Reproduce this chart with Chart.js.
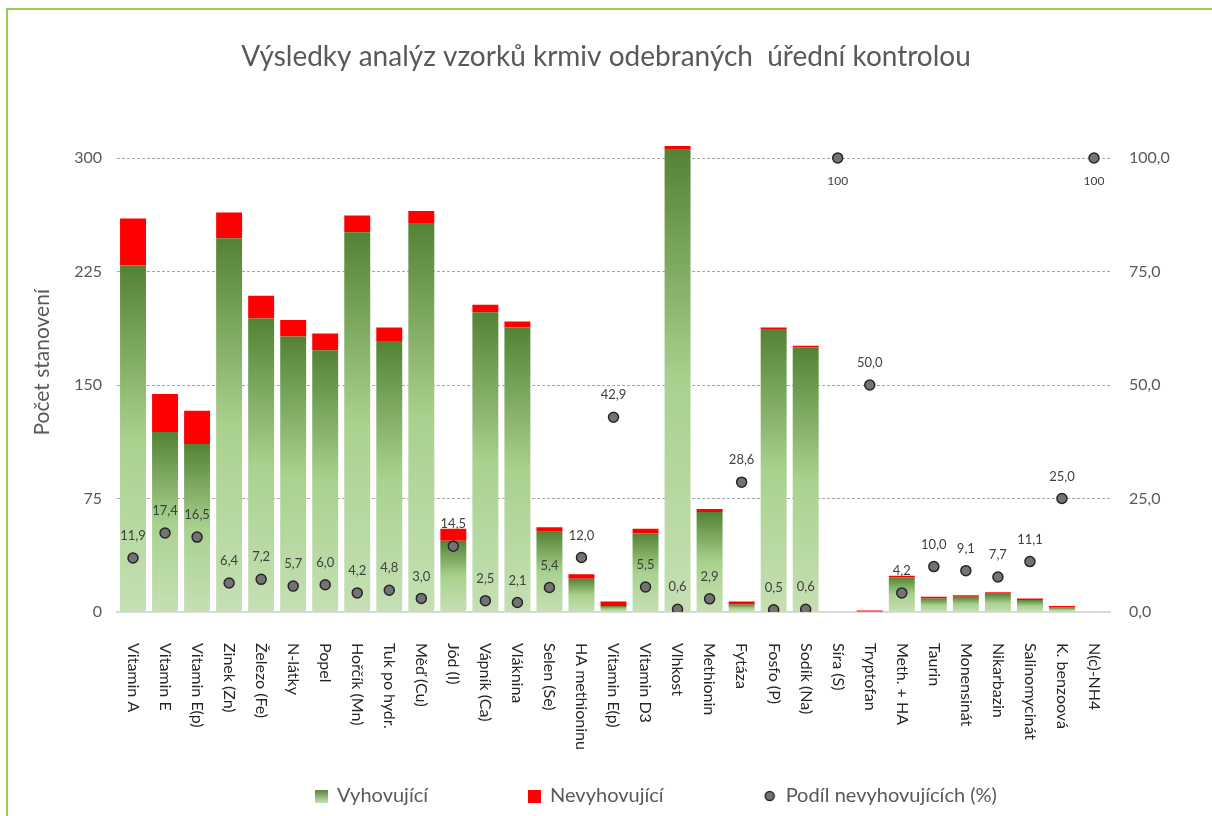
<!DOCTYPE html>
<html lang="cs">
<head>
<meta charset="utf-8">
<title>Výsledky analýz vzorků krmiv</title>
<script src="https://cdn.jsdelivr.net/npm/chart.js@4"></script>
<style>
    html, body { margin: 0; padding: 0; background: #ffffff; }
    #ramecek {
        position: absolute; left: 6px; top: 8px; width: 1300px; height: 900px;
        border-left: 2px solid #92d050; border-top: 2px solid #92d050;
        pointer-events: none;
    }
    #graf { position: absolute; left: 0; top: 0; }
</style>
</head>
<body>
<div id="ramecek"></div>
<canvas id="graf" width="1212" height="816"></canvas>
<script>
// Kategorie (rozbory)
const kategorie = ["Vitamin A", "Vitamin E", "Vitamin E(p)", "Zinek (Zn)", "Železo (Fe)", "N-látky", "Popel",
    "Hořčík (Mn)", "Tuk po hydr.", "Měď (Cu)", "Jód (I)", "Vápník (Ca)", "Vláknina", "Selen (Se)",
    "HA methioninu", "Vitamin E(p)", "Vitamin D3", "Vlhkost", "Methionin", "Fytáza", "Fosfo (P)",
    "Sodík (Na)", "Síra (S)", "Tryptofan", "Meth. + HA", "Taurin", "Monensinát", "Nikarbazin",
    "Salinomycinát", "K. benzoová", "N(c)-NH4"]

// Počty stanovení
const vyhovujici = [229, 119, 111, 247, 194, 182, 173, 251, 179, 257, 47, 198, 188, 53, 22, 4, 52, 306, 66, 5, 187, 175, 0, 0, 23, 9, 10, 12, 8, 3, 0]
const nevyhovujici = [31, 25, 22, 17, 15, 11, 11, 11, 9, 8, 8, 5, 4, 3, 3, 3, 3, 2, 2, 2, 1, 1, 0, 1, 1, 1, 1, 1, 1, 1, 0]

// Podíl nevyhovujících (%)
const podil = [11.9, 17.4, 16.5, 6.4, 7.2, 5.7, 6.0, 4.2, 4.8, 3.0, 14.5, 2.5, 2.1, 5.4, 12.0, 42.9, 5.5, 0.6, 2.9, 28.6, 0.5, 0.6, 100, 50.0, 4.2, 10.0, 9.1, 7.7, 11.1, 25.0, 100]

// Popisky os
const ticksLevo = [0, 75, 150, 225, 300]
const ticksPravo = [0, 25, 50, 75, 100]

const pismo = "Lato"
const sedaText = "#595959"

// Zelený přechod pro jeden sloupec
function prechodZelena(chart, i) {
    const y = chart.scales.y
    if (!y) return "#a9d18e"
    const horni = y.getPixelForValue(vyhovujici[i])
    const dolni = y.getPixelForValue(0)
    if (!(dolni - horni > 0)) return "#a9d18e"
    const g = chart.ctx.createLinearGradient(0, horni, 0, dolni)
    g.addColorStop(0, "#548235")
    g.addColorStop(0.5, "#a9d18e")
    g.addColorStop(1, "#c5e0b4")
    return g
}

// Ikony do legendy
function ikona(kresli, w, h) {
    const c = document.createElement("canvas")
    c.width = w
    c.height = h
    kresli(c.getContext("2d"))
    return c
}
const ikonaZelena = ikona(ctx => {
    const g = ctx.createLinearGradient(0, 0, 0, 13)
    g.addColorStop(0, "#548235")
    g.addColorStop(1, "#c5e0b4")
    ctx.fillStyle = g
    ctx.fillRect(0, 0, 13, 13)
}, 13, 13)
const ikonaCervena = ikona(ctx => {
    ctx.fillStyle = "#ff0000"
    ctx.fillRect(0, 0, 13, 13)
}, 13, 13)
const ikonaBod = ikona(ctx => {
    ctx.beginPath()
    ctx.arc(6, 6, 4.5, 0, Math.PI * 2)
    ctx.fillStyle = "#737373"
    ctx.fill()
    ctx.lineWidth = 1.5
    ctx.strokeStyle = "#262626"
    ctx.stroke()
}, 12, 12)
const ikonyLegendy = [ikonaZelena, ikonaCervena, ikonaBod]

// Svislé popisky kategorií (text čte shora dolů)
const popiskyOsyX = {
    id: "popiskyOsyX",
    afterDraw(chart) {
        const {ctx, scales: {x}} = chart
        ctx.save()
        ctx.font = `16px ${pismo}`
        ctx.fillStyle = "#262626"
        ctx.textAlign = "left"
        ctx.textBaseline = "middle"
        kategorie.forEach((k, i) => {
            ctx.save()
            ctx.translate(x.getPixelForValue(i), chart.chartArea.bottom + 31)
            ctx.rotate(Math.PI / 2)
            ctx.fillText(k, 0, 0)
            ctx.restore()
        })
        ctx.restore()
    }
}

// Hodnoty u bodů
const popiskyBodu = {
    id: "popiskyBodu",
    afterDatasetsDraw(chart) {
        const {ctx} = chart
        const meta = chart.getDatasetMeta(2)
        ctx.save()
        ctx.fillStyle = "#404040"
        ctx.textAlign = "center"
        ctx.textBaseline = "middle"
        meta.data.forEach((bod, i) => {
            const v = podil[i]
            if (v === 100) {
                ctx.font = `12px ${pismo}`
                ctx.fillText("100", bod.x, bod.y + 23)
            } else {
                ctx.font = `13px ${pismo}`
                ctx.fillText(v.toFixed(1).replace(".", ","), bod.x, bod.y - 22)
            }
        })
        ctx.restore()
    }
}

// Legenda v Excelu stojí trochu vpravo od středu
const posunLegendy = {
    id: "posunLegendy",
    afterLayout(chart) {
        chart.legend.left += 50
        chart.legend.right += 50
    }
}

const data = {
    labels: kategorie,
    datasets: [{
        label: "Vyhovující",
        data: vyhovujici,
        backgroundColor: ctx => prechodZelena(ctx.chart, ctx.dataIndex),
        yAxisID: "y",
        order: 2,
        barPercentage: 0.81,
        categoryPercentage: 1,
    }, {
        label: "Nevyhovující",
        data: nevyhovujici,
        backgroundColor: "#ff0000",
        yAxisID: "y",
        order: 2,
        barPercentage: 0.81,
        categoryPercentage: 1,
    }, {
        type: "line",
        label: "Podíl nevyhovujících (%)",
        data: podil,
        yAxisID: "y1",
        showLine: false,
        order: 1,
        pointRadius: 5,
        pointBackgroundColor: "#737373",
        pointBorderColor: "#262626",
        pointBorderWidth: 1.5,
    }],
}

const config = {
    type: "bar",
    data: data,
    options: {
        responsive: false,
        animation: false,
        layout: {padding: 0},
        plugins: {
            title: {
                display: true,
                text: "Výsledky analýz vzorků krmiv odebraných  úřední kontrolou",
                color: sedaText,
                font: {family: pismo, size: 28, weight: "normal"},
                padding: {top: 40, bottom: 39},
            },
            legend: {
                position: "bottom",
                labels: {
                    usePointStyle: true,
                    boxWidth: 12,
                    boxHeight: 12,
                    padding: 100,
                    color: sedaText,
                    font: {family: pismo, size: 20},
                    generateLabels: chart => chart.data.datasets.map((ds, i) => ({
                        text: ds.label,
                        pointStyle: ikonyLegendy[i],
                        fillStyle: "transparent",
                        strokeStyle: "transparent",
                        lineWidth: 0,
                        fontColor: sedaText,
                        hidden: false,
                        datasetIndex: i,
                    })),
                },
            },
            tooltip: {enabled: false},
        },
        scales: {
            x: {
                stacked: true,
                ticks: {display: false},
                grid: {display: false},
                border: {color: "#d9d9d9", width: 2},
                afterFit: s => { s.height = 74 },
            },
            y: {
                stacked: true,
                position: "left",
                min: 0,
                max: 330,
                afterBuildTicks: s => { s.ticks = ticksLevo.map(v => ({value: v})) },
                afterFit: s => { s.width = 117 },
                ticks: {
                    color: sedaText,
                    padding: 15,
                    font: {family: pismo, size: 16},
                },
                grid: {
                    drawTicks: false,
                    color: c => c.tick.value === 0 ? "transparent" : "#a6a6a6",
                    lineWidth: 1,
                },
                border: {display: false, dash: [3, 2]},
                title: {
                    display: true,
                    text: "Počet stanovení",
                    color: sedaText,
                    font: {family: pismo, size: 21},
                    padding: {top: 30, bottom: 0},
                },
            },
            y1: {
                position: "right",
                min: 0,
                max: 110,
                afterBuildTicks: s => { s.ticks = ticksPravo.map(v => ({value: v})) },
                afterFit: s => { s.width = 102 },
                ticks: {
                    color: sedaText,
                    padding: 19,
                    font: {family: pismo, size: 16},
                    callback: v => v.toFixed(1).replace(".", ","),
                },
                grid: {drawOnChartArea: false, drawTicks: false},
                border: {display: false},
            },
        },
    },
    plugins: [popiskyOsyX, popiskyBodu, posunLegendy],
}

// eslint-disable-next-line no-undef
const grafKrmiv = new Chart(document.querySelector("#graf"), config)
</script>
</body>
</html>
